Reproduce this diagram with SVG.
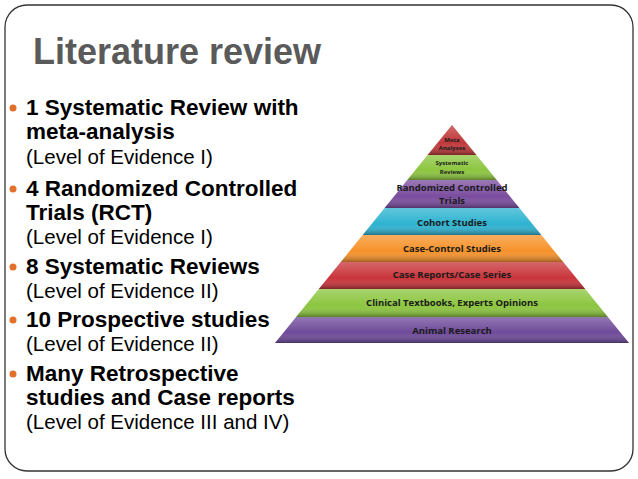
<svg xmlns="http://www.w3.org/2000/svg" width="638" height="479" viewBox="0 0 638 479">
<style>
.b{font-family:"Liberation Sans",Arial,sans-serif;font-weight:bold;font-size:22.5px;fill:#000}
.r{font-family:"Liberation Sans",Arial,sans-serif;font-size:20.5px;fill:#000}
.p{font-family:"Open Sans","DejaVu Sans",sans-serif;font-weight:bold;font-size:9.5px;fill:#1a1a1a;text-anchor:middle}
.s{font-size:6px}
.dot{fill:#e0702a}
</style>
<defs>
<linearGradient id="sh" x1="0" y1="0" x2="0" y2="1">
<stop offset="0" stop-color="#fff" stop-opacity="0.25"/>
<stop offset="0.6" stop-color="#fff" stop-opacity="0"/>
<stop offset="1" stop-color="#000" stop-opacity="0.35"/>
</linearGradient>
</defs>
<rect width="638" height="479" fill="#fff"/>
<rect x="5" y="5" width="628" height="466" rx="22" fill="none" stroke="#333" stroke-width="1.3"/>
<text x="33" y="64" font-family="Liberation Sans,Arial,sans-serif" font-weight="bold" font-size="36" fill="#5a5a5a">Literature review</text>
<g id="bullets">
<circle class="dot" cx="13" cy="108" r="3.5"/>
<circle class="dot" cx="13" cy="189" r="3.5"/>
<circle class="dot" cx="13" cy="267" r="3.5"/>
<circle class="dot" cx="13" cy="320" r="3.5"/>
<circle class="dot" cx="13" cy="374" r="3.5"/>
<text class="b" x="26" y="115">1 Systematic Review with</text>
<text class="b" x="26" y="139">meta-analysis</text>
<text class="r" x="26" y="164">(Level of Evidence I)</text>
<text class="b" x="26" y="196">4 Randomized Controlled</text>
<text class="b" x="26" y="220">Trials (RCT)</text>
<text class="r" x="26" y="244">(Level of Evidence I)</text>
<text class="b" x="26" y="274">8 Systematic Reviews</text>
<text class="r" x="26" y="298">(Level of Evidence II)</text>
<text class="b" x="26" y="327">10 Prospective studies</text>
<text class="r" x="26" y="351">(Level of Evidence II)</text>
<text class="b" x="26" y="381">Many Retrospective</text>
<text class="b" x="26" y="405">studies and Case reports</text>
<text class="r" x="26" y="429">(Level of Evidence III and IV)</text>
</g>
<g id="pyramid">
<g id="meta"><polygon points="452,125 476.4,155 427.6,155" fill="#c0393b"/><polygon points="452,125 476.4,155 427.6,155" fill="url(#sh)"/>
<text class="p s" x="452" y="142">Meta</text><text class="p s" x="452" y="150">Analyses</text></g>
<g id="sys"><polygon points="427.6,155 476.4,155 496.7,180 407.3,180" fill="#8cc63f"/><polygon points="427.6,155 476.4,155 496.7,180 407.3,180" fill="url(#sh)"/>
<text class="p s" x="452" y="165">Systematic</text><text class="p s" x="452" y="174">Reviews</text></g>
<g id="rct"><polygon points="407.3,180 496.7,180 519.4,208 384.6,208" fill="#7a4c9e"/><polygon points="407.3,180 496.7,180 519.4,208 384.6,208" fill="url(#sh)"/>
<text class="p" x="452" y="191" font-size="7.5">Randomized Controlled</text><text class="p" x="452" y="203.5" font-size="7.5">Trials</text></g>
<g id="cohort"><polygon points="384.6,208 519.4,208 541.3,235 362.7,235" fill="#2eb3d1"/><polygon points="384.6,208 519.4,208 541.3,235 362.7,235" fill="url(#sh)"/>
<text class="p" x="452" y="226">Cohort Studies</text></g>
<g id="cc"><polygon points="362.7,235 541.3,235 563.2,262 340.8,262" fill="#f7922a"/><polygon points="362.7,235 541.3,235 563.2,262 340.8,262" fill="url(#sh)"/>
<text class="p" x="452" y="252">Case-Control Studies</text></g>
<g id="cr"><polygon points="340.8,262 563.2,262 585.2,289 318.8,289" fill="#c9343a"/><polygon points="340.8,262 563.2,262 585.2,289 318.8,289" fill="url(#sh)"/>
<text class="p" x="452" y="278">Case Reports/Case Series</text></g>
<g id="clin"><polygon points="318.8,289 585.2,289 607.9,317 296.1,317" fill="#8cc63f"/><polygon points="318.8,289 585.2,289 607.9,317 296.1,317" fill="url(#sh)"/>
<text class="p" x="452" y="306">Clinical Textbooks, Experts Opinions</text></g>
<g id="animal"><polygon points="296.1,317 607.9,317 629,343 275,343" fill="#6f4a9a"/><polygon points="296.1,317 607.9,317 629,343 275,343" fill="url(#sh)"/>
<text class="p" x="452" y="334">Animal Research</text></g>
</g>
<g id="connectors"/>
</svg>
